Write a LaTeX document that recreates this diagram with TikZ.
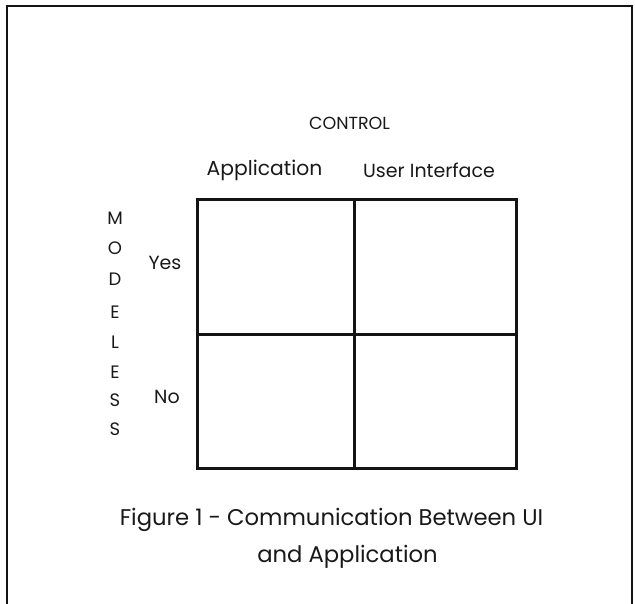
\documentclass[tikz,border=0pt]{standalone}
\usepackage{fontspec}
\setmainfont{Poppins}
\begin{document}
\begin{tikzpicture}[x=1pt,y=-1pt,
  ink/.style={draw=black!92},
  cell/.style={ink, line width=2.5pt, minimum width=#1, inner sep=0pt, anchor=north west},
  lbl/.style={inner sep=0pt, text=black!90, font=\fontsize{19}{22}\selectfont},
  axis/.style={inner sep=0pt, text=black!90, font=\fontsize{18}{21}\selectfont},
  caption/.style={inner sep=0pt, text=black!90, font=\fontsize{22.7}{26}\selectfont}]
  \useasboundingbox (0,0) rectangle (635,603);
  % outer frame, open at the foot of the page
  \coordinate (fbl) at (7,610);
  \coordinate (ftl) at (7,6);
  \coordinate (ftr) at (632,6);
  \coordinate (fbr) at (632,610);
  \draw[ink, line width=2pt] (fbl) -- (ftl) -- (ftr) -- (fbr);
  % the two-by-two grid
  \node[cell=157pt, minimum height=135pt] (c11) at (196,198) {};
  \node[cell=162pt, minimum height=135pt] (c12) at (353,198) {};
  \node[cell=157pt, minimum height=134pt] (c21) at (196,333) {};
  \node[cell=162pt, minimum height=134pt] (c22) at (353,333) {};
  % column headings
  \node[lbl, font=\fontsize{17.5}{20}\selectfont] (control) at (349.5,123) {CONTROL};
  \node[lbl, font=\fontsize{20.3}{24}\selectfont] (app) at (264.5,170) {Application};
  \node[lbl] (ui) at (429,170) {User Interface};
  % row headings
  \node[lbl] (yes) at (165,263) {Yes};
  \node[lbl] (no) at (167,397) {No};
  % vertical axis title
  \foreach \ch/\yy [count=\i] in {M/218,O/248,D/279,E/312,L/342,E/372,S/400,S/429}
    \node[axis] (m\i) at (115,\yy) {\ch};
  % caption
  \node[caption] (cap1) at (331.5,520) {Figure 1 - Communication Between UI};
  \node[caption] (cap2) at (347.5,557) {and Application};
\end{tikzpicture}
\end{document}
